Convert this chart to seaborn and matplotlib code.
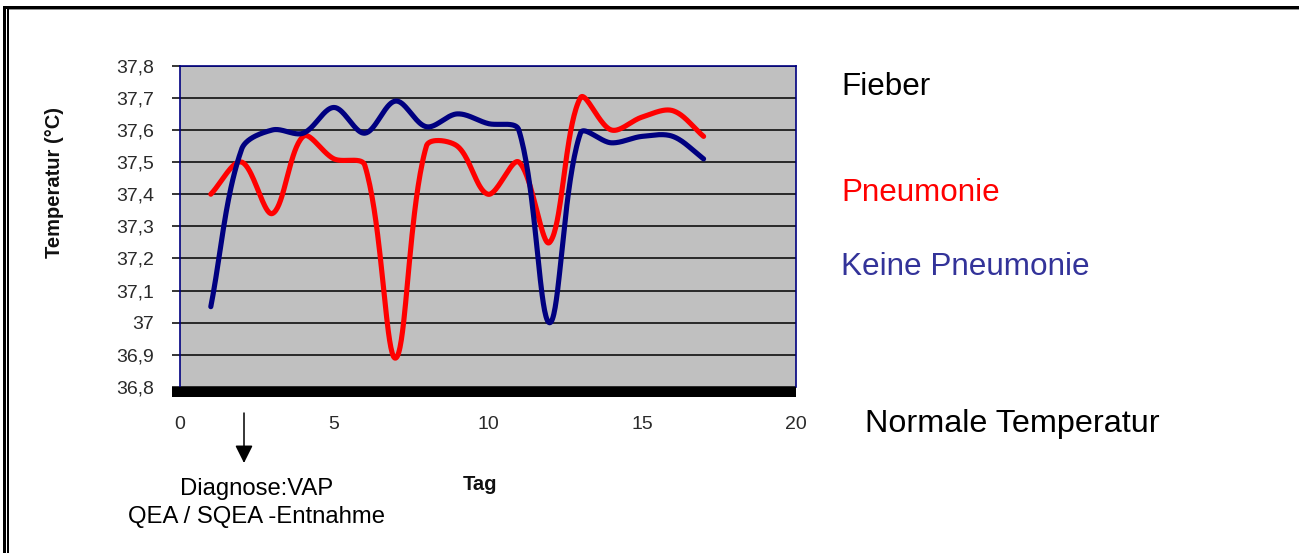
import numpy as np
import pandas as pd
import matplotlib
matplotlib.use("Agg")
import matplotlib.pyplot as plt
from matplotlib.patches import Rectangle, FancyArrowPatch
import seaborn as sns

# ---- data -------------------------------------------------------------
tage = list(range(1, 18))
pneumonie = [37.40, 37.50, 37.34, 37.58, 37.51, 37.49, 36.89, 37.55, 37.55,
             37.40, 37.50, 37.25, 37.70, 37.60, 37.64, 37.66, 37.58]
keine_pneumonie = [37.05, 37.54, 37.60, 37.59, 37.67, 37.59, 37.69, 37.61, 37.65,
                   37.62, 37.60, 37.00, 37.59, 37.56, 37.58, 37.58, 37.51]
gruppen = ["Pneumonie", "Keine Pneumonie"]
y_ticks = [36.8, 36.9, 37.0, 37.1, 37.2, 37.3, 37.4, 37.5, 37.6, 37.7, 37.8]
y_tick_labels = ["36,8", "36,9", "37", "37,1", "37,2", "37,3", "37,4",
                 "37,5", "37,6", "37,7", "37,8"]
x_ticks = [0, 5, 10, 15, 20]
x_tick_labels = ["0", "5", "10", "15", "20"]

W, H = 1299, 553
# screen scale of the plot area (pixels per data unit), used for smoothing
SX, SY = (796 - 180) / 20, (387 - 65.7) / 1.0


def fx(x):
    return x / W


def fy(y):
    return 1 - y / H


def smooth(xs, ys, n=40, k=1 / 3):
    """Bezier smoothing with control arms weighted by neighbouring segment lengths."""
    p = np.column_stack([np.asarray(xs, float) * SX, np.asarray(ys, float) * SY])
    m = len(p)
    out = []
    t = np.linspace(0, 1, n)[:, None]

    def tangent(i):
        a = p[max(i - 1, 0)]
        b = p[min(i + 1, m - 1)]
        return b - a

    def seglen(i, j):
        return np.hypot(*(p[j] - p[i]))

    for i in range(m - 1):
        p1, p2 = p[i], p[i + 1]
        d12 = seglen(i, i + 1)
        d01 = seglen(i - 1, i) if i > 0 else 0.0
        d23 = seglen(i + 1, i + 2) if i + 2 < m else 0.0
        t1 = tangent(i)
        t2 = tangent(i + 1)
        w1 = d12 / (d01 + d12) if (d01 + d12) > 0 else 0
        w2 = d12 / (d12 + d23) if (d12 + d23) > 0 else 0
        b1 = p1 + t1 * k * w1
        b2 = p2 - t2 * k * w2
        seg = ((1 - t) ** 3) * p1 + 3 * ((1 - t) ** 2) * t * b1 \
            + 3 * (1 - t) * t ** 2 * b2 + t ** 3 * p2
        out.append(seg if i == 0 else seg[1:])
    c = np.vstack(out)
    return c[:, 0] / SX, c[:, 1] / SY


frames = []
for name, vals in zip(gruppen, [pneumonie, keine_pneumonie]):
    sx, sy = smooth(tage, vals)
    frames.append(pd.DataFrame({"Tag": sx, "Temperatur": sy, "Gruppe": name}))
df = pd.concat(frames, ignore_index=True)

# ---- styling ----------------------------------------------------------
sns.set_theme(style="white")
plt.rcParams["font.family"] = ["Liberation Sans", "DejaVu Sans"]

fig = plt.figure(figsize=(W / 100, H / 100), dpi=100)
ax = fig.add_axes([fx(180), fy(387), fx(796) - fx(180), fy(65.7) - fy(387)])
ax.set_facecolor("#C0C0C0")

palette = {"Pneumonie": "#FF0000", "Keine Pneumonie": "#000080"}
sns.lineplot(data=df, x="Tag", y="Temperatur", hue="Gruppe", hue_order=gruppen,
             palette=palette, estimator=None, sort=False, linewidth=3.7,
             legend=False, ax=ax, solid_capstyle="round")

ax.set_xlim(0, 20)
ax.set_ylim(36.8, 37.8)
ax.set_yticks(y_ticks)
ax.set_yticklabels(y_tick_labels)
ax.set_xticks(x_ticks)
ax.set_xticklabels(x_tick_labels)
ax.set_xlabel("")
ax.set_ylabel("")

ax.yaxis.grid(True, color="#000000", linewidth=1.1)
ax.xaxis.grid(False)
ax.set_axisbelow(True)

ax.tick_params(axis="y", direction="out", length=5.8, width=1.1, color="black",
               pad=13, labelsize=14, labelcolor="#2a2a2a", left=True)
ax.tick_params(axis="x", length=0, pad=21, labelsize=14, labelcolor="#2a2a2a")

for side in ("left", "top", "right"):
    ax.spines[side].set_visible(True)
    ax.spines[side].set_color("#000080")
    ax.spines[side].set_linewidth(1.2)
ax.spines["bottom"].set_visible(False)

# thick baseline under the plot area
fig.add_artist(Rectangle((fx(172), fy(397)), fx(796) - fx(172), fy(387) - fy(397),
                         transform=fig.transFigure, facecolor="black",
                         edgecolor="none", zorder=5))

# axis titles
fig.text(fx(55), fy(182), "Temperatur (°C)", rotation=90, ha="center", va="center",
         fontsize=14.5, fontweight="bold", color="#111111")
fig.text(fx(480), fy(490), "Tag", ha="center", va="baseline",
         fontsize=14.5, fontweight="bold", color="#111111")

# annotations on the right
fig.text(fx(841), fy(95), "Fieber", ha="left", va="baseline", fontsize=22.6, color="black")
fig.text(fx(841), fy(201), "Pneumonie", ha="left", va="baseline", fontsize=22.6, color="#FF0000")
fig.text(fx(841), fy(275), "Keine Pneumonie", ha="left", va="baseline", fontsize=22.7,
         color="#333399")
fig.text(fx(865), fy(432), "Normale Temperatur", ha="left", va="baseline", fontsize=23.3,
         color="black")

# diagnosis marker
fig.add_artist(FancyArrowPatch((fx(244), fy(413)), (fx(244), fy(463)),
                               transform=fig.transFigure,
                               arrowstyle="-|>,head_length=1.0,head_width=0.5",
                               mutation_scale=10.8, color="black", linewidth=1.1,
                               shrinkA=0, shrinkB=0))
fig.text(fx(257), fy(495), "Diagnose:VAP", ha="center", va="baseline",
         fontsize=17.2, color="black")
fig.text(fx(257), fy(523), "QEA / SQEA -Entnahme", ha="center", va="baseline",
         fontsize=17.2, color="black")

# outer frame
fig.add_artist(Rectangle((fx(3), fy(9)), 1 - fx(3), fy(5.7) - fy(9),
                         transform=fig.transFigure, facecolor="black", edgecolor="none"))
fig.add_artist(Rectangle((fx(9), fy(10)), 1 - fx(9), fy(9) - fy(10),
                         transform=fig.transFigure, facecolor="#909090", edgecolor="none"))
fig.add_artist(Rectangle((fx(3.3), 0), fx(6) - fx(3.3), fy(5.7),
                         transform=fig.transFigure, facecolor="black", edgecolor="none"))
fig.add_artist(Rectangle((fx(7.3), 0), fx(9) - fx(7.3), fy(9),
                         transform=fig.transFigure, facecolor="black", edgecolor="none"))

fig.savefig("out.png", dpi=100, facecolor="white")
